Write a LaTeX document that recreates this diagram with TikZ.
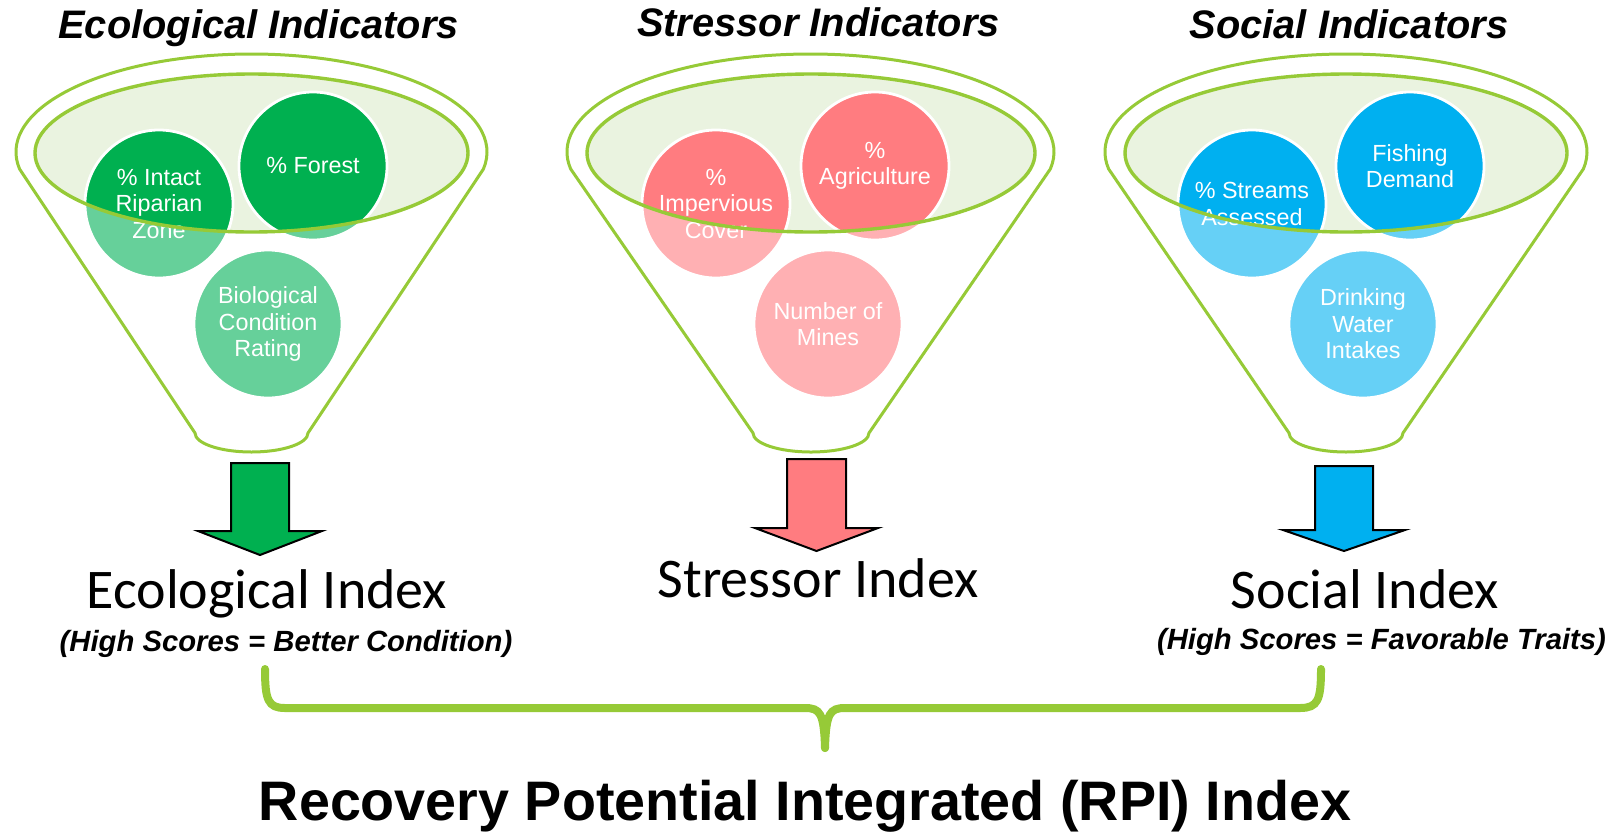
\documentclass[tikz,border=0pt]{standalone}
\usepackage{fontspec}
\setmainfont{Liberation Sans}
\newfontfamily\idxfont{Carlito}

\definecolor{funnelgreen}{RGB}{150,202,55}
\definecolor{rimfill}{RGB}{234,243,224}
\definecolor{ecodark}{RGB}{0,176,80}
\definecolor{ecolight}{RGB}{102,208,154}
\definecolor{stressdark}{RGB}{255,124,128}
\definecolor{stresslight}{RGB}{255,176,179}
\definecolor{socdark}{RGB}{0,176,240}
\definecolor{soclight}{RGB}{102,208,246}

\tikzset{
  funnel/.style={draw=funnelgreen, line width=0.075cm, fill=white},
  rim/.style={draw=funnelgreen, line width=0.085cm},
  bubble/.style n args={4}{circle, draw=white, line width=0.07cm, minimum size=3.7cm,
    inner sep=0pt, align=center, text=white, font=\fontsize{16.6}{18.8}\selectfont,
    fill=#1, path picture={\fill[#2] (#3) ellipse [x radius=#4, y radius=79];}},
  blockarrow/.style={draw=black, line width=0.05cm, line join=miter},
  heading/.style={anchor=base, font=\fontsize{28.3}{31}\selectfont\bfseries\itshape},
  indexlabel/.style={anchor=base, font=\idxfont\fontsize{39.8}{43}\selectfont},
  remark/.style={anchor=base, font=\fontsize{20.8}{23}\selectfont\bfseries\itshape},
  brace/.style={draw=funnelgreen, line width=0.2cm, line cap=round}
}

\begin{document}
\begin{tikzpicture}[x=0.025cm, y=-0.025cm]
\useasboundingbox (0,0) rectangle (1618,831);

% headings
\node[heading] (ecohead) at (258.5,38) {Ecological Indicators};
\node[heading] (stresshead) at (818.5,36) {Stressor Indicators};
\node[heading] (sochead) at (1349,38) {Social Indicators};

% ecological funnel
\coordinate (ecorim) at (251.5,153);
\draw[funnel] (251.5,152) ++(170:235.5 and 98) arc [start angle=170, end angle=370, x radius=235.5, y radius=98]
  -- (308,433) arc [start angle=0, end angle=180, x radius=56.5, y radius=19] -- cycle;
\fill[rimfill] (ecorim) ellipse [x radius=216.5, y radius=79];
\node[bubble={ecolight}{ecodark}{ecorim}{216.5}] (intact) at (159,204) {\% Intact\\Riparian\\Zone};
\node[bubble={ecolight}{ecodark}{ecorim}{216.5}] (forest) at (313,166) {\% Forest};
\node[bubble={ecolight}{ecodark}{ecorim}{216.5}] (bio) at (268,324) {Biological\\Condition\\Rating};
\draw[rim] (ecorim) ellipse [x radius=216.5, y radius=79];

% stressor funnel
\coordinate (stressrim) at (811,153);
\draw[funnel] (810.5,152) ++(170:243.5 and 98) arc [start angle=170, end angle=370, x radius=243.5, y radius=98]
  -- (869,433) arc [start angle=0, end angle=180, x radius=58, y radius=19] -- cycle;
\fill[rimfill] (stressrim) ellipse [x radius=224, y radius=79];
\node[bubble={stresslight}{stressdark}{stressrim}{224}] (imperv) at (716,204) {\%\\Impervious\\Cover};
\node[bubble={stresslight}{stressdark}{stressrim}{224}] (agri) at (875,166) {\%\\Agriculture};
\node[bubble={stresslight}{stressdark}{stressrim}{224}] (mines) at (828,324) {Number of\\Mines};
\draw[rim] (stressrim) ellipse [x radius=224, y radius=79];

% social funnel
\coordinate (socrim) at (1346,153);
\draw[funnel] (1346,152) ++(170:241 and 98) arc [start angle=170, end angle=370, x radius=241, y radius=98]
  -- (1403,433) arc [start angle=0, end angle=180, x radius=57, y radius=19] -- cycle;
\fill[rimfill] (socrim) ellipse [x radius=221, y radius=79];
\node[bubble={soclight}{socdark}{socrim}{221}] (streams) at (1252,204) {\% Streams\\Assessed};
\node[bubble={soclight}{socdark}{socrim}{221}] (fishing) at (1410,166) {Fishing\\Demand};
\node[bubble={soclight}{socdark}{socrim}{221}] (drinking) at (1363,324) {Drinking\\Water\\Intakes};
\draw[rim] (socrim) ellipse [x radius=221, y radius=79];

% block arrows
\coordinate (ecoarrow) at (260,463);
\draw[blockarrow, fill=ecodark] (ecoarrow) ++(-29,0) -- ++(58,0) -- ++(0,68) -- ++(33,0) -- ++(-62,24) -- ++(-62,-24) -- ++(33,0) -- cycle;
\coordinate (stressarrow) at (816.5,459);
\draw[blockarrow, fill=stressdark] (stressarrow) ++(-29.5,0) -- ++(59,0) -- ++(0,69) -- ++(32,0) -- ++(-61.5,23) -- ++(-61.5,-23) -- ++(32,0) -- cycle;
\coordinate (socarrow) at (1344,466);
\draw[blockarrow, fill=socdark] (socarrow) ++(-29,0) -- ++(58,0) -- ++(0,64) -- ++(32,0) -- ++(-61,21) -- ++(-61,-21) -- ++(32,0) -- cycle;

% index labels
\node[indexlabel] (ecoidx) at (267,608) {Ecological Index};
\node[indexlabel] (stressidx) at (818,597) {Stressor Index};
\node[indexlabel] (socidx) at (1365,608) {Social Index};
\node[remark] (ecosub) at (286,651) {(High Scores = Better Condition)};
\node[remark] (socsub) at (1381.5,649) {(High Scores = Favorable Traits)};

% brace and total
\coordinate (braceleft) at (265,669);
\coordinate (braceright) at (1321,669);
\coordinate (bracetip) at (825,748);
\draw[brace] (braceleft) .. controls (265,700) and (268,708) .. (285,708) -- (805,708) .. controls (820,708) and (824,713) .. (bracetip);
\draw[brace] (braceright) .. controls (1321,700) and (1318,708) .. (1300,708) -- (845,708) .. controls (830,708) and (826,713) .. (bracetip);
\node[anchor=base, font=\fontsize{39.6}{43}\selectfont\bfseries] (rpi) at (805,820) {Recovery Potential Integrated (RPI) Index};
\end{tikzpicture}
\end{document}
